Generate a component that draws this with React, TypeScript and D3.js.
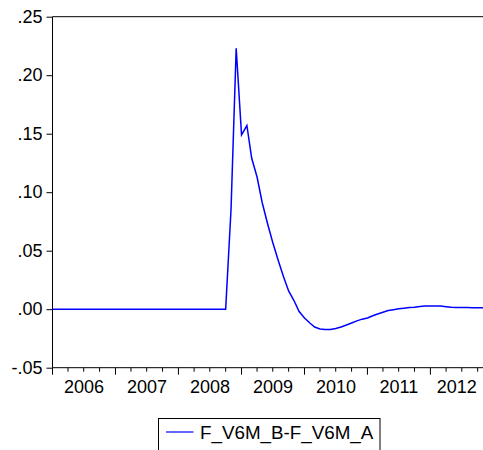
import { useEffect, useRef } from "react";
import * as d3 from "d3";

// monthly observations, Jan 2006 - Nov 2012
const START = new Date(2006, 0, 1);
const SPREAD = [
  0, 0, 0, 0, 0, 0, 0, 0, 0, 0, 0, 0,
  0, 0, 0, 0, 0, 0, 0, 0, 0, 0, 0, 0,
  0, 0, 0, 0, 0, 0, 0, 0, 0, 0, 0.085, 0.223,
  0.149, 0.157, 0.129, 0.113, 0.091, 0.073, 0.057, 0.042, 0.028, 0.0156, 0.0074, -0.002,
  -0.0075, -0.0118, -0.0152, -0.0169, -0.0174, -0.0174, -0.0165, -0.0152, -0.0135, -0.0118, -0.01, -0.0085,
  -0.0075, -0.0056, -0.0041, -0.0026, -0.0011, -0.0004, 0.0003, 0.0009, 0.0014, 0.0017, 0.0024, 0.0027,
  0.0027, 0.0027, 0.0027, 0.0021, 0.0016, 0.0015, 0.0015, 0.0014, 0.0013, 0.0013, 0.0013,
];
const Y_TICKS = [-0.05, 0, 0.05, 0.1, 0.15, 0.2, 0.25];
const YEARS = [2006, 2007, 2008, 2009, 2010, 2011, 2012];
const SERIES_NAME = "F_V6M_B-F_V6M_A";

export default function App() {
  const ref = useRef<SVGSVGElement>(null);

  useEffect(() => {
    if (!ref.current) return;
    const w = 483;
    const h = 450;
    const m = { top: 16.7, right: 0, bottom: 82.3, left: 52.5 };
    const font = "'Liberation Sans', Arial, sans-serif";

    const dates = SPREAD.map((_, i) => d3.timeMonth.offset(START, i));
    const data = SPREAD.map((v, i) => ({ date: dates[i], value: v }));

    const svg = d3.select(ref.current);
    svg.selectAll("*").remove();
    svg.attr("width", w).attr("height", h).attr("viewBox", `0 0 ${w} ${h}`);

    const x = d3.scaleTime().domain([dates[0], dates[dates.length - 1]]).range([m.left, w - m.right]);
    const y = d3.scaleLinear().domain([-0.05, 0.25]).range([h - m.bottom, m.top]);

    // frame
    svg.append("line").attr("x1", m.left).attr("x2", w + 2).attr("y1", m.top).attr("y2", m.top).attr("stroke", "#000");
    svg.append("line").attr("x1", m.left).attr("x2", m.left).attr("y1", m.top).attr("y2", h - m.bottom).attr("stroke", "#000");

    // y axis, EViews style labels (".05", "-.05")
    const yAxis = svg
      .append("g")
      .attr("transform", `translate(${m.left},0)`)
      .call(
        d3
          .axisLeft(y)
          .tickValues(Y_TICKS)
          .tickSize(6)
          .tickPadding(4)
          .tickFormat((d) => {
            const v = d as number;
            const s = Math.abs(v).toFixed(2).replace(/^0\./, ".");
            return v < 0 ? "-" + s : s;
          })
      );
    yAxis.select(".domain").remove();
    yAxis.selectAll(".tick line").attr("stroke", "#000");
    yAxis.selectAll(".tick text").attr("font-family", font).attr("font-size", 18).attr("fill", "#000");

    // x axis: quarter minor ticks, year major ticks
    const xa = svg.append("g").attr("transform", `translate(0,${h - m.bottom})`);
    xa.append("line").attr("x1", m.left).attr("x2", w + 2).attr("stroke", "#000");
    const quarters = dates.filter((d) => d.getMonth() % 3 === 0);
    xa.selectAll(".qt")
      .data(quarters)
      .join("line")
      .attr("x1", (d) => x(d))
      .attr("x2", (d) => x(d))
      .attr("y1", 0)
      .attr("y2", (d) => (d.getMonth() === 0 ? 7 : 4))
      .attr("stroke", "#000");
    xa.selectAll(".yl")
      .data(YEARS)
      .join("text")
      .attr("x", (yr) => {
        const a = x(new Date(yr, 0, 1));
        const b = Math.min(x(new Date(yr + 1, 0, 1)), w);
        return (a + b) / 2;
      })
      .attr("y", 25)
      .attr("text-anchor", "middle")
      .attr("font-family", font)
      .attr("font-size", 18)
      .attr("fill", "#000")
      .text((yr) => String(yr));

    // series
    const line = d3
      .line<{ date: Date; value: number }>()
      .x((d) => x(d.date))
      .y((d) => y(d.value));
    svg
      .append("path")
      .datum(data)
      .attr("d", line)
      .attr("fill", "none")
      .attr("stroke", "#0000ff")
      .attr("stroke-width", 1.5);

    // legend
    const lg = svg.append("g").attr("transform", "translate(158.5,418.5)");
    lg.append("rect").attr("width", 221.5).attr("height", 40).attr("fill", "#fff").attr("stroke", "#000");
    lg.append("line").attr("x1", 7.5).attr("x2", 35).attr("y1", 13.5).attr("y2", 13.5).attr("stroke", "#0000ff").attr("stroke-width", 1.2);
    lg.append("text")
      .attr("x", 41.5)
      .attr("y", 20.8)
      .attr("font-family", font)
      .attr("font-size", 18.8)
      .attr("fill", "#000")
      .text(SERIES_NAME);
  }, []);

  return (
    <div style={{ position: "fixed", left: 0, top: 0 }}>
      <svg ref={ref} style={{ display: "block", background: "#fff" }} />
    </div>
  );
}
